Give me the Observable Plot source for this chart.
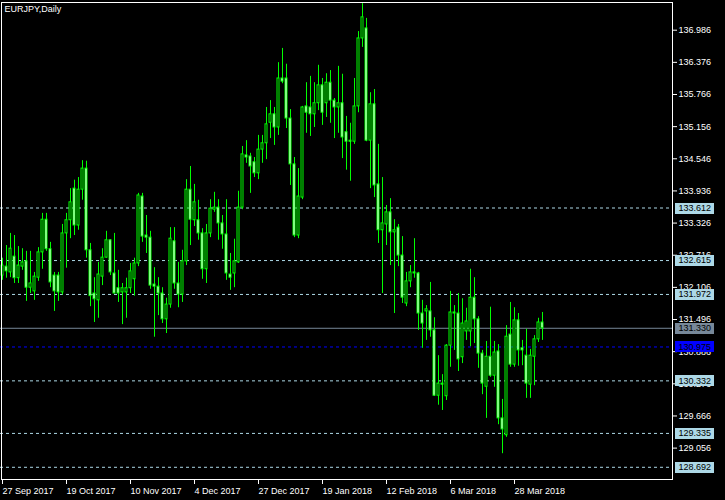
<!DOCTYPE html>
<html><head><meta charset="utf-8">
<script src="https://cdn.jsdelivr.net/npm/d3@7"></script>
<script src="https://cdn.jsdelivr.net/npm/@observablehq/plot@0.6"></script>
<style>
html,body{margin:0;padding:0;background:#000;}
#chart{position:relative;width:725px;height:500px;overflow:hidden;background:#000}
</style></head><body><div id="chart"></div>
<script>
const symbolTitle = "EURJPY,Daily";

const opens = [
132.33,132.50,132.39,132.69,132.28,132.50,132.60,132.10,132.03,132.29,
132.77,133.39,132.83,132.33,132.33,132.01,133.13,133.38,133.98,133.28,
133.96,134.36,132.81,131.99,131.86,132.31,132.67,133.00,132.37,132.09,
132.01,132.01,132.09,132.26,132.56,133.83,133.09,133.05,132.16,132.12,
131.99,131.50,131.78,132.98,132.18,131.97,132.60,133.96,133.38,133.38,
133.13,132.45,133.13,133.58,133.62,133.32,133.11,132.35,132.37,132.58,
133.62,134.61,134.59,134.48,134.27,134.72,134.84,135.23,135.39,135.14,
136.07,136.07,135.31,134.44,133.09,133.81,135.54,135.52,135.39,135.60,
135.94,135.60,135.99,135.65,135.52,135.60,135.05,134.89,134.87,135.54,
136.83,137.02,134.89,135.58,134.06,133.19,133.30,133.53,133.15,133.24,
132.71,131.80,132.22,132.39,132.37,131.61,131.65,131.65,131.29,130.05,
130.28,130.04,131.00,131.63,131.61,130.78,131.27,131.27,131.91,131.50,
130.85,130.22,130.79,130.43,130.89,129.62,129.30,131.21,130.64,131.48,
130.95,130.81,130.26,130.79,131.12,131.44];

const highs = [
132.66,132.90,133.13,133.09,132.88,132.84,132.79,132.79,132.39,132.86,
133.51,133.51,132.96,132.39,132.39,133.30,133.51,133.98,134.14,134.19,
134.51,134.50,132.94,132.29,132.58,132.84,133.17,133.01,133.13,132.43,
132.18,132.28,132.56,132.66,133.89,133.89,133.47,133.17,132.48,132.29,
132.10,131.90,133.24,133.24,132.58,132.81,134.15,134.40,134.06,133.76,
133.22,133.30,133.77,133.91,133.77,133.47,133.77,132.75,133.02,133.93,
134.78,134.89,134.65,134.57,134.99,134.99,135.52,135.65,135.52,136.37,
136.64,136.34,135.48,134.57,134.36,135.54,135.99,136.11,135.99,136.32,
136.07,136.16,136.22,135.69,136.30,136.15,135.35,135.22,136.07,136.96,
137.49,137.21,135.80,135.86,134.82,134.19,133.66,133.79,133.39,133.30,
133.07,132.39,132.52,133.03,132.39,131.86,131.76,132.20,131.53,130.81,
130.45,131.02,132.03,131.76,131.99,131.89,131.71,132.45,132.29,131.55,
130.91,131.08,131.73,131.08,131.02,129.98,131.38,131.82,131.72,131.61,
131.10,131.31,130.93,131.19,131.52,131.63];

const lows = [
132.24,132.28,132.29,132.18,132.18,132.43,131.84,131.99,131.86,132.22,
132.45,132.79,132.10,131.65,131.84,131.96,132.47,133.03,133.09,133.19,
133.76,132.66,131.74,131.44,131.52,132.14,132.66,132.33,131.98,131.82,
131.40,131.52,131.99,131.94,132.50,132.96,132.75,132.07,131.16,131.57,
131.42,131.23,131.71,132.07,131.72,131.82,132.52,132.90,133.26,133.00,
132.26,132.18,133.05,133.53,133.00,132.83,132.24,132.05,132.10,132.56,
133.58,134.46,133.89,134.19,134.15,134.46,134.53,134.93,134.80,134.99,
135.97,135.12,134.04,133.05,133.03,133.77,135.03,134.97,135.14,135.46,
135.18,135.33,135.22,134.93,135.03,134.55,134.33,134.12,134.82,135.42,
136.66,134.87,133.98,133.81,132.94,131.99,132.90,132.52,131.61,132.50,
131.80,131.74,132.10,132.28,131.29,130.95,131.10,131.16,130.04,129.87,
129.77,129.96,130.59,130.91,130.51,130.66,131.10,130.98,131.04,130.57,
130.07,129.62,130.40,130.21,129.50,128.95,129.26,130.59,130.59,130.61,
130.62,130.00,130.00,130.24,131.06,131.10];

const closes = [
132.52,132.41,132.84,132.28,132.52,132.58,132.10,132.18,132.31,132.77,
133.39,132.83,132.20,132.03,132.01,133.13,133.38,133.72,133.28,133.96,
134.36,132.81,131.94,131.88,132.35,132.67,133.00,132.39,131.99,131.99,
132.09,132.09,132.41,132.56,133.85,133.07,133.05,132.14,132.12,131.99,
131.50,131.78,133.03,132.18,131.97,132.60,133.96,133.39,133.72,133.13,
132.45,133.13,133.60,133.62,133.32,133.11,132.37,132.29,132.60,133.62,
134.63,134.57,134.40,134.27,134.72,134.84,135.20,135.39,135.14,136.07,
136.01,135.31,134.44,133.09,133.83,135.52,135.42,135.39,135.60,135.94,
135.42,135.99,135.65,135.52,135.60,134.95,134.87,134.87,135.54,136.83,
137.23,134.89,135.58,134.04,133.19,133.32,133.53,133.15,133.19,132.71,
131.91,132.22,132.39,132.37,131.61,131.42,131.69,131.29,130.05,130.28,
130.26,131.00,131.63,131.61,130.74,131.42,131.46,131.91,131.50,130.85,
130.28,130.79,130.43,130.87,129.62,129.41,131.17,130.64,131.48,130.91,
130.91,130.28,130.81,131.12,131.44,131.33];

const dateTickIndex = [0,16,32,48,64,80,96,112,128];
const dateTickLabels = ["27 Sep 2017","19 Oct 2017","10 Nov 2017","4 Dec 2017","27 Dec 2017","19 Jan 2018","12 Feb 2018","6 Mar 2018","28 Mar 2018"];
const priceTicks = [136.986,136.376,135.766,135.156,134.546,133.936,133.326,132.716,132.106,131.496,130.886,130.276,129.666,129.056];
const levelLines = [133.612,132.615,131.972,130.332,129.335,128.692];
const bidPrice = 131.330;
const blueLevel = 130.975;

const candles = opens.map((o, i) => ({i, open: o, high: highs[i], low: lows[i], close: closes[i]}));
const bulls = candles.filter(d => d.close >= d.open);
const bears = candles.filter(d => d.close < d.open);

const levelLabels = [
  ...levelLines.map(v => ({v, bg: "#add8e6"})),
  {v: bidPrice, bg: "#778899"},
  {v: blueLevel, bg: "#0000ff"}
];

const chart = Plot.plot({
  width: 725, height: 500,
  marginTop: 0, marginLeft: 0, marginRight: 53, marginBottom: 21,
  style: {background: "#000", color: "#fff", fontFamily: "'Liberation Sans', Arial, sans-serif", fontSize: "9px"},
  x: {type: "linear", domain: [-0.5, 167.5]},
  y: {type: "linear", domain: [128.4604, 137.5496]},
  marks: [
    Plot.ruleY(levelLines, {stroke: "#add8e6", strokeDasharray: "3,3"}),
    Plot.ruleY([blueLevel], {stroke: "#0000ff", strokeDasharray: "3,3"}),
    Plot.ruleY([bidPrice], {stroke: "#778899"}),
    Plot.ruleX(candles, {x: "i", y1: "low", y2: "high", stroke: "#00ff00"}),
    Plot.rect(bulls, {x1: d => d.i - 0.25, x2: d => d.i + 0.25, y1: "open", y2: "close", fill: "#000", stroke: "#00ff00", strokeWidth: 1}),
    Plot.rect(bears, {x1: d => d.i - 0.25, x2: d => d.i + 0.25, y1: "open", y2: "close", fill: "#fff", stroke: "#00ff00", strokeWidth: 1}),
    Plot.frame({stroke: "#fff", insetTop: 2, insetLeft: 1}),
    Plot.axisY(priceTicks, {anchor: "right", tickSize: 4, tickPadding: 2, tickFormat: d => d.toFixed(3), label: null, stroke: "#fff", fill: "#fff"}),
    Plot.axisX(dateTickIndex, {anchor: "bottom", tickSize: 5, tickPadding: 3, textAnchor: "start", tickFormat: d => dateTickLabels[dateTickIndex.indexOf(d)], label: null, stroke: "#fff", fill: "#fff"}),
    Plot.text(levelLabels, {y: "v", text: d => d.v.toFixed(3), frameAnchor: "right", dx: 6, textAnchor: "start", fill: "#000"}),
    Plot.text([symbolTitle], {text: d => d, frameAnchor: "top-left", dx: 4, dy: 5, textAnchor: "start", lineAnchor: "top", fill: "#fff"})
  ]
});

document.getElementById("chart").appendChild(chart);

// background boxes behind the level labels (placed via the y scale)
const ys = chart.scale("y");
const labelTexts = levelLabels.map(d => d.v.toFixed(3));
let labelGroup = null;
Array.from(chart.querySelectorAll("text")).forEach(t => {
  const k = labelTexts.indexOf(t.textContent);
  const fillAttr = t.getAttribute("fill") || (t.parentNode && t.parentNode.getAttribute("fill"));
  if (k >= 0 && fillAttr === "#000") labelGroup = t.parentNode;
});
if (labelGroup) {
  const boxes = document.createElementNS("http://www.w3.org/2000/svg", "g");
  levelLabels.forEach(d => {
    const py = Math.round(ys.apply(d.v));
    const r = document.createElementNS("http://www.w3.org/2000/svg", "rect");
    r.setAttribute("x", 675);
    r.setAttribute("y", py - 5);
    r.setAttribute("width", 39);
    r.setAttribute("height", 11);
    r.setAttribute("fill", d.bg);
    boxes.appendChild(r);
  });
  labelGroup.parentNode.insertBefore(boxes, labelGroup);
}
</script></body></html>
